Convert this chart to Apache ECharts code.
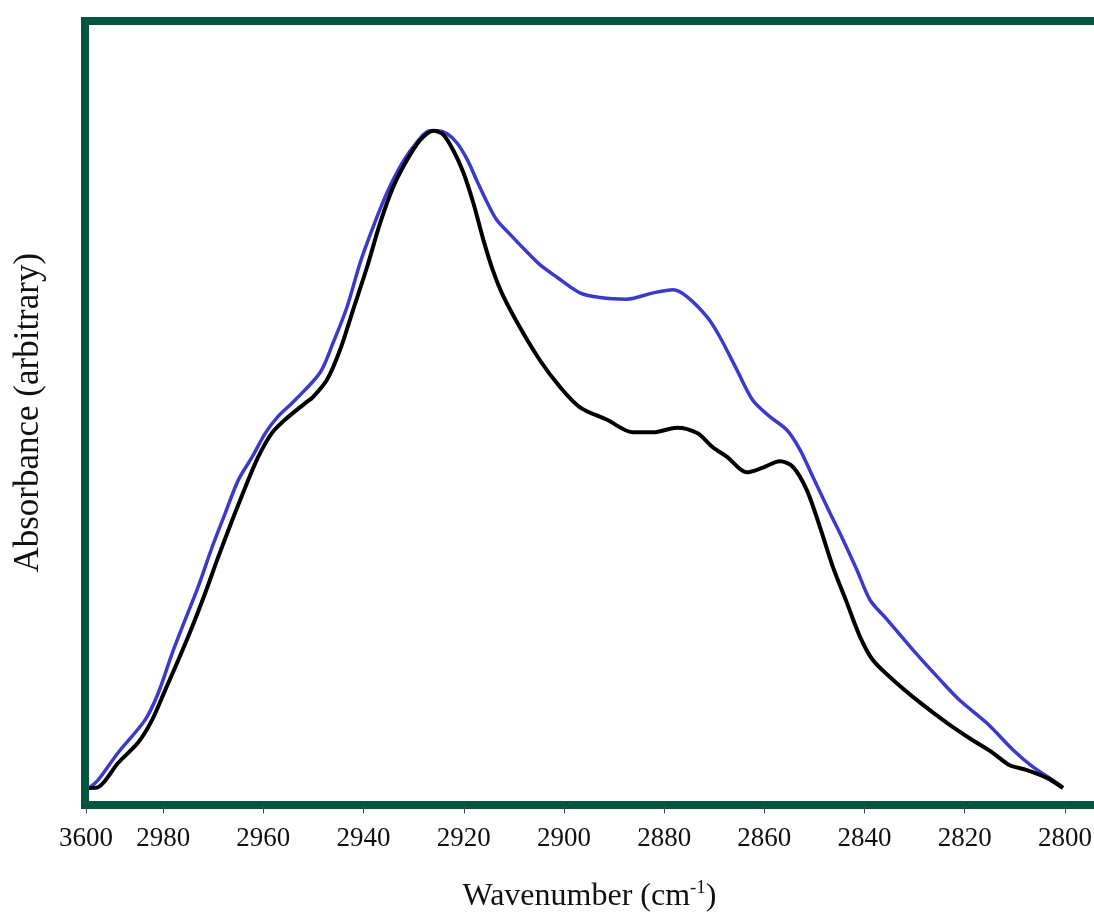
<!DOCTYPE html>
<html>
<head>
<meta charset="utf-8">
<script src="https://cdn.jsdelivr.net/npm/echarts@6/dist/echarts.min.js"></script>
<style>
  html, body { margin: 0; padding: 0; background: #fff; }
  #chart { width: 1094px; height: 913px; }
</style>
</head>
<body>
<div id="chart"></div>
<script>
// x tick positions (wavenumber) and the labels printed under them
const tickValues = [2995.4, 2980, 2960, 2940, 2920, 2900, 2880, 2860, 2840, 2820, 2800]
const tickLabels = ['3600', '2980', '2960', '2940', '2920', '2900', '2880', '2860', '2840', '2820', '2800']

// blue spectrum
const blueWn = [2994.8, 2993.0, 2989.0, 2983.6, 2981.0, 2978.2, 2975.6, 2973.0, 2970.2, 2967.6, 2965.0,
  2962.2, 2959.6, 2957.1, 2953.7, 2948.7, 2946.1, 2943.3, 2940.7, 2938.1, 2935.3, 2932.7, 2930.1,
  2926.7, 2925.3, 2923.3, 2921.3, 2919.3, 2917.3, 2915.3, 2913.4, 2910.8, 2907.8, 2904.8, 2901.4,
  2896.8, 2892.8, 2887.4, 2882.2, 2878.2, 2875.4, 2871.4, 2868.9, 2865.5, 2862.3, 2858.9, 2855.5,
  2852.9, 2850.3, 2846.9, 2844.3, 2841.5, 2838.9, 2835.5, 2830.3, 2824.9, 2821.0, 2815.6, 2810.4,
  2806.4, 2802.4, 2800.4]
const blueAbs = [2.1, 3.1, 6.6, 10.8, 14.2, 19.3, 23.6, 27.8, 32.9, 37.2, 41.4,
  44.4, 47.4, 49.5, 51.6, 55.1, 58.9, 63.5, 69.1, 73.7, 78.1, 81.4, 83.9,
  86.0, 86.0, 85.6, 84.4, 82.3, 79.5, 76.8, 74.6, 72.8, 70.8, 68.9, 67.3,
  65.3, 64.7, 64.5, 65.3, 65.7, 64.8, 62.2, 59.7, 55.5, 51.6, 49.5, 47.8,
  45.3, 41.8, 37.2, 33.8, 29.9, 26.1, 23.6, 19.7, 15.9, 13.3, 10.4, 7.0,
  4.8, 3.1, 2.2]

// black spectrum
const blackWn = [2994.8, 2993.0, 2989.0, 2985.0, 2982.2, 2979.6, 2977.0, 2974.2, 2971.6, 2969.0, 2966.2,
  2963.6, 2961.0, 2958.3, 2955.7, 2951.7, 2950.1, 2947.3, 2944.7, 2942.1, 2939.3, 2936.7, 2934.1,
  2931.3, 2928.7, 2926.1, 2924.1, 2922.1, 2920.1, 2918.1, 2916.1, 2914.2, 2912.2, 2908.8, 2904.8,
  2900.8, 2896.8, 2891.4, 2886.2, 2882.2, 2877.4, 2873.4, 2870.3, 2867.5, 2863.5, 2860.3, 2856.9,
  2854.3, 2851.5, 2848.9, 2846.3, 2843.5, 2840.9, 2838.3, 2834.3, 2828.9, 2823.5, 2818.4, 2814.4,
  2811.0, 2807.6, 2803.6, 2800.4]
const blackAbs = [2.1, 2.2, 5.3, 7.9, 10.8, 14.6, 18.4, 22.7, 27.0, 31.6, 36.3,
  40.5, 44.4, 47.4, 49.1, 51.2, 52.0, 54.2, 58.0, 63.1, 68.6, 74.2, 78.8,
  82.3, 84.8, 86.0, 85.5, 83.5, 80.7, 76.8, 72.1, 68.2, 65.0, 60.9, 56.7,
  53.3, 50.7, 49.1, 47.5, 47.5, 48.1, 47.4, 45.6, 44.4, 42.4, 43.0, 43.8,
  43.1, 40.1, 35.4, 30.3, 25.7, 21.4, 18.4, 15.9, 13.0, 10.4, 8.2, 6.6,
  5.0, 4.4, 3.4, 2.1]

const FRAME = '#04553d'
const SERIF = "'Liberation Serif', 'Times New Roman', serif"
const X_MIN = 2794.2
const X_MAX = 2995.6

const zip = (xs, ys) => xs.map((x, i) => [x, ys[i]])

const chart = echarts.init(document.getElementById('chart'))
chart.setOption({
  animation: false,
  backgroundColor: '#fff',
  grid: { left: 85, right: 0, top: 21, bottom: 108.5, containLabel: false, outerBoundsMode: 'none' },
  xAxis: [{
    type: 'value', inverse: true, min: X_MIN, max: X_MAX, position: 'bottom',
    name: '{a|Wavenumber (cm}{s|-1}{a|)}',
    nameLocation: 'middle', nameGap: 74,
    nameTextStyle: {
      rich: {
        a: { fontFamily: SERIF, fontSize: 32, color: '#111', lineHeight: 36 },
        s: { fontFamily: SERIF, fontSize: 19, color: '#111', verticalAlign: 'top', lineHeight: 14 }
      }
    },
    axisLine: { show: true, lineStyle: { color: FRAME, width: 8, cap: 'square' } },
    axisTick: { show: true, customValues: tickValues, length: 9, lineStyle: { color: '#444', width: 1 } },
    axisLabel: {
      customValues: tickValues, margin: 21,
      fontFamily: SERIF, fontSize: 27, lineHeight: 27, color: '#111',
      formatter: v => {
        const i = tickValues.findIndex(t => Math.abs(t - v) < 0.01)
        return i >= 0 ? tickLabels[i] : ''
      }
    },
    splitLine: { show: false }
  }, {
    type: 'value', inverse: true, min: X_MIN, max: X_MAX, position: 'top',
    axisLine: { show: true, lineStyle: { color: FRAME, width: 8, cap: 'square' } },
    axisTick: { show: false }, axisLabel: { show: false }, splitLine: { show: false }
  }],
  yAxis: {
    type: 'value', min: 0, max: 100,
    name: 'Absorbance (arbitrary)', nameLocation: 'middle', nameGap: 38,
    nameTextStyle: { fontFamily: SERIF, fontSize: 35, color: '#111', lineHeight: 36 },
    axisLine: { show: true, lineStyle: { color: FRAME, width: 8, cap: 'square' } },
    axisTick: { show: false }, axisLabel: { show: false }, splitLine: { show: false }
  },
  series: [{
    name: 'blue', type: 'line', data: zip(blueWn, blueAbs),
    showSymbol: false, smooth: 0.3,
    lineStyle: { color: '#3a3acb', width: 3.5 }
  }, {
    name: 'black', type: 'line', data: zip(blackWn, blackAbs),
    showSymbol: false, smooth: 0.3,
    lineStyle: { color: '#000', width: 4 }
  }]
})
</script>
</body>
</html>
